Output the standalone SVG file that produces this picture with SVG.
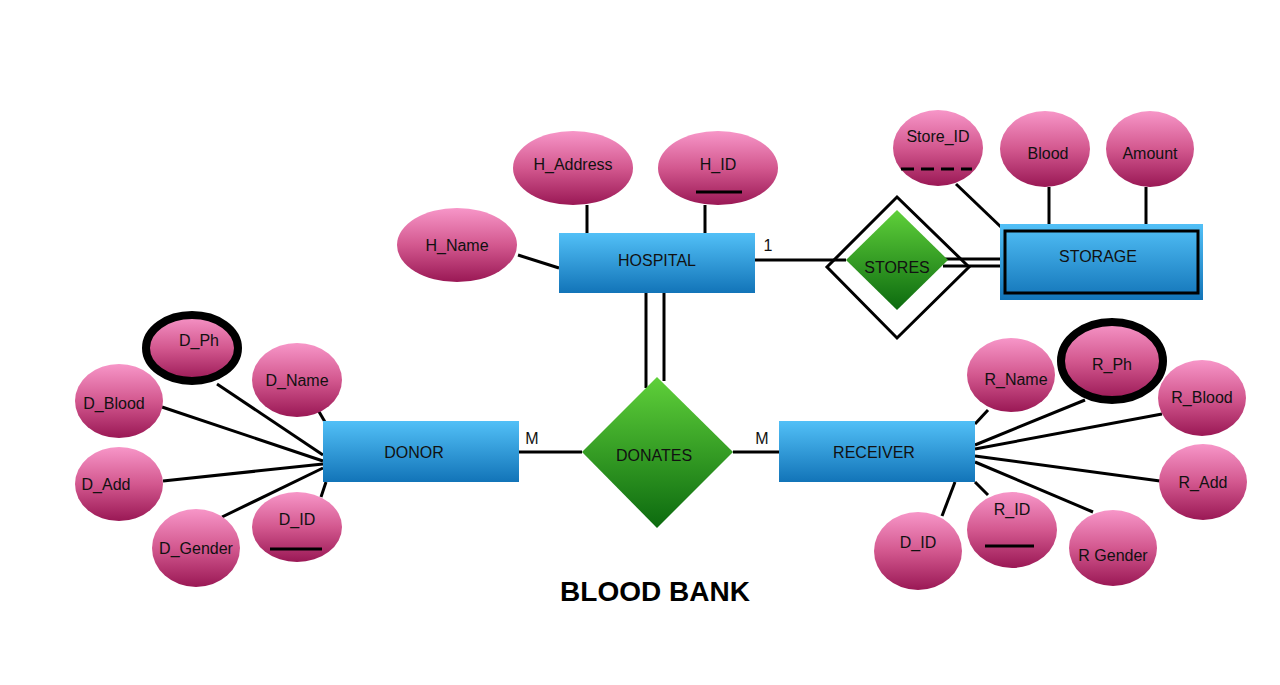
<svg xmlns="http://www.w3.org/2000/svg" width="1280" height="685" viewBox="0 0 1280 685">
<defs>
<linearGradient id="gPink" x1="0" y1="0" x2="0" y2="1">
<stop offset="0" stop-color="#f796c8"/>
<stop offset="0.5" stop-color="#d3588f"/>
<stop offset="1" stop-color="#9a1855"/>
</linearGradient>
<linearGradient id="gBlue" x1="0" y1="0" x2="0" y2="1">
<stop offset="0" stop-color="#52c0f7"/>
<stop offset="1" stop-color="#1274b8"/>
</linearGradient>
<linearGradient id="gGreen" x1="0" y1="0" x2="0" y2="1">
<stop offset="0" stop-color="#5fd03a"/>
<stop offset="1" stop-color="#0c6a0f"/>
</linearGradient>
</defs>
<style>
.attr{fill:url(#gPink);}
.ent{fill:url(#gBlue);}
.rel{fill:url(#gGreen);}
.multi{stroke:#000;stroke-width:8;}
.t{font-family:"Liberation Sans",Arial,sans-serif;font-size:16px;fill:#111;text-anchor:middle;dominant-baseline:central;}
.c line{stroke:#000;stroke-width:3;}
.u{stroke:#000;stroke-width:3;}
</style>
<rect width="1280" height="685" fill="#fff"/>

<g class="c" id="connectors">
<line x1="518" y1="255" x2="559" y2="268"/>
<line x1="587" y1="205" x2="587" y2="233"/>
<line x1="705" y1="205" x2="705" y2="233"/>
<line x1="754" y1="260" x2="846" y2="260"/>
<line x1="943" y1="259" x2="1002" y2="259"/>
<line x1="943" y1="266" x2="1002" y2="266"/>
<line x1="956" y1="184" x2="1002" y2="228"/>
<line x1="1049" y1="187" x2="1049" y2="224"/>
<line x1="1146" y1="187" x2="1146" y2="224"/>
<line x1="646" y1="293" x2="646" y2="388"/>
<line x1="664" y1="293" x2="664" y2="381"/>
<line x1="519" y1="452" x2="582" y2="452"/>
<line x1="733" y1="452" x2="779" y2="452"/>
<line x1="217" y1="384" x2="323" y2="455"/>
<line x1="318" y1="410" x2="325" y2="422"/>
<line x1="162" y1="407" x2="323" y2="461"/>
<line x1="163" y1="481" x2="323" y2="464"/>
<line x1="222" y1="517" x2="323" y2="468"/>
<line x1="321" y1="497" x2="326" y2="482"/>
<line x1="988" y1="410" x2="975" y2="424"/>
<line x1="1085" y1="400" x2="975" y2="445"/>
<line x1="1162" y1="414" x2="975" y2="449"/>
<line x1="1160" y1="481" x2="975" y2="456"/>
<line x1="1093" y1="512" x2="975" y2="462"/>
<line x1="988" y1="495" x2="975" y2="482"/>
<line x1="942" y1="516" x2="955" y2="482"/>
</g>

<g id="hospital"><rect class="ent" x="559" y="233" width="196" height="60"/><text class="t" x="657" y="260">HOSPITAL</text></g>
<g id="h_name"><ellipse class="attr" cx="457" cy="245" rx="60" ry="37"/><text class="t" x="457" y="245">H_Name</text></g>
<g id="h_address"><ellipse class="attr" cx="573" cy="168" rx="60" ry="37"/><text class="t" x="573" y="164">H_Address</text></g>
<g id="h_id"><ellipse class="attr" cx="718" cy="168" rx="60" ry="37"/><text class="t" x="718" y="164">H_ID</text><line class="u" x1="696" y1="192" x2="742" y2="192"/></g>
<text class="t" x="768" y="245">1</text>

<g id="stores">
<polygon points="897,197 969,267 897,338 827,267" fill="none" stroke="#000" stroke-width="3"/>
<polygon class="rel" points="897,210 948,260 897,310 846,260"/>
<text class="t" x="897" y="267">STORES</text>
</g>

<g id="storage">
<rect class="ent" x="1000" y="224" width="203" height="76"/>
<rect x="1005" y="231" width="193" height="62" fill="none" stroke="#000" stroke-width="3"/>
<text class="t" x="1098" y="256">STORAGE</text>
</g>
<g id="store_id"><ellipse class="attr" cx="938" cy="148" rx="45" ry="38"/><text class="t" x="938" y="136">Store_ID</text><line class="u" x1="901" y1="169" x2="972" y2="169" stroke-dasharray="13,7"/></g>
<g id="blood"><ellipse class="attr" cx="1045" cy="149" rx="45" ry="38"/><text class="t" x="1048" y="153">Blood</text></g>
<g id="amount"><ellipse class="attr" cx="1150" cy="149" rx="44" ry="38"/><text class="t" x="1150" y="153">Amount</text></g>

<g id="donates">
<polygon class="rel" points="657,377 733,452 657,528 582,452"/>
<text class="t" x="654" y="455">DONATES</text>
</g>
<text class="t" x="532" y="438">M</text>
<text class="t" x="762" y="438">M</text>

<g id="donor"><rect class="ent" x="323" y="421" width="196" height="61"/><text class="t" x="414" y="452">DONOR</text></g>
<g id="d_ph"><ellipse class="attr multi" cx="192" cy="348" rx="46" ry="33"/><text class="t" x="199" y="340">D_Ph</text></g>
<g id="d_name"><ellipse class="attr" cx="297" cy="380" rx="45" ry="37"/><text class="t" x="297" y="380">D_Name</text></g>
<g id="d_blood"><ellipse class="attr" cx="119" cy="401" rx="44" ry="37"/><text class="t" x="114" y="403">D_Blood</text></g>
<g id="d_add"><ellipse class="attr" cx="119" cy="484" rx="44" ry="37"/><text class="t" x="106" y="484">D_Add</text></g>
<g id="d_gender"><ellipse class="attr" cx="196" cy="548" rx="44" ry="39"/><text class="t" x="196" y="548">D_Gender</text></g>
<g id="d_id"><ellipse class="attr" cx="297" cy="527" rx="45" ry="35"/><text class="t" x="297" y="519">D_ID</text><line class="u" x1="270" y1="549" x2="322" y2="549"/></g>

<g id="receiver"><rect class="ent" x="779" y="421" width="196" height="61"/><text class="t" x="874" y="452">RECEIVER</text></g>
<g id="r_name"><ellipse class="attr" cx="1011" cy="375" rx="44" ry="37"/><text class="t" x="1016" y="379">R_Name</text></g>
<g id="r_ph"><ellipse class="attr multi" cx="1112" cy="361" rx="51" ry="39"/><text class="t" x="1112" y="364">R_Ph</text></g>
<g id="r_blood"><ellipse class="attr" cx="1202" cy="398" rx="44" ry="38"/><text class="t" x="1202" y="397">R_Blood</text></g>
<g id="r_add"><ellipse class="attr" cx="1203" cy="482" rx="44" ry="38"/><text class="t" x="1203" y="482">R_Add</text></g>
<g id="r_gender"><ellipse class="attr" cx="1113" cy="548" rx="44" ry="38"/><text class="t" x="1113" y="555">R  Gender</text></g>
<g id="r_id"><ellipse class="attr" cx="1012" cy="530" rx="45" ry="38"/><text class="t" x="1012" y="509">R_ID</text><line class="u" x1="985" y1="546" x2="1034" y2="546"/></g>
<g id="rd_id"><ellipse class="attr" cx="918" cy="551" rx="44" ry="39"/><text class="t" x="918" y="542">D_ID</text></g>

<text x="655" y="591" font-family="Liberation Sans,Arial,sans-serif" font-size="28" font-weight="bold" text-anchor="middle" dominant-baseline="central" fill="#000">BLOOD BANK</text>
</svg>
